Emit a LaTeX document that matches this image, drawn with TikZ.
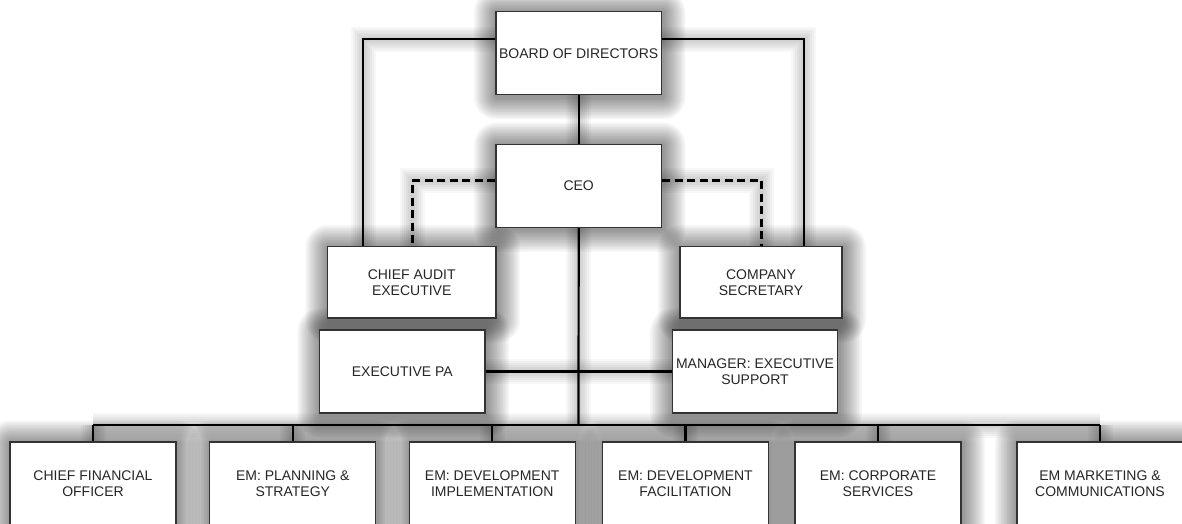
\documentclass[tikz,border=0pt]{standalone}
\usepackage{fontspec}
\setmainfont{Liberation Sans}
\usetikzlibrary{calc}
\pgfdeclarelayer{back}
\pgfdeclarelayer{bg}
\pgfsetlayers{back,bg,main}
\tikzset{
  box/.style={draw=black!80, line width=1.2pt, fill=white, inner sep=0pt, align=center,
    font=\fontsize{14}{16}\selectfont, text=black!85},
  bigbox/.style={box, minimum width=165.5pt, minimum height=83pt},
  wire/.style={line width=2.2pt, draw=black},
  dwire/.style={wire, line width=2.6pt, dash pattern=on 8pt off 4.5pt},
  glow/.style={draw=black, draw opacity=0.03}
}
\newcommand\orgwires[2]{%
  \draw[#1] (board.south) -- (ceo.north);
  \draw[#1] ([yshift=13.9pt]board.west) -| ([xshift=-48.4pt]cae.north);
  \draw[#1] ([yshift=13.9pt]board.east) -| ([xshift=42.7pt]cs.north);
  \draw[#2] ([yshift=5pt]ceo.west) -| ([xshift=0.6pt]cae.north);
  \draw[#2] ([yshift=5pt]ceo.east) -| ([xshift=0.7pt]cs.north);
  \draw[#1] (ceo.south) -- (bus);
  \draw[#1] (epa.east) -- (mes.west);
  \draw[#1] (cfo.north |- bus) -- (mk.north |- bus);
  \foreach \n in {cfo,pl,di,df,corp,mk}{\draw[#1] (\n.north) -- (\n.north |- bus);}
}
\newcommand\boxshade[1]{%
  \foreach \r in {1.5,3,...,22.5}{%
    \fill[black, opacity=0.032, rounded corners=\r pt]
      ([xshift=-\r pt+1pt, yshift=\r pt-1.5pt]#1.north west) rectangle
      ([xshift=\r pt+1pt, yshift=-\r pt-1.5pt]#1.south east);}%
}
\begin{document}
\begin{tikzpicture}[x=1pt,y=-1pt]
\useasboundingbox (0,0) rectangle (1182,524);
\begin{pgfonlayer}{back}
\fill[white] (0,0) rectangle (1182,524);
\end{pgfonlayer}
\node[bigbox] (board) at (578.7,53.2) {BOARD OF DIRECTORS};
\node[bigbox] (ceo) at (578.7,185.7) {CEO};
\node[box, minimum width=168.7pt, minimum height=71.3pt] (cae) at (411.7,282.3) {CHIEF AUDIT\\EXECUTIVE};
\node[box, minimum width=162pt, minimum height=71.3pt] (cs) at (761,282.3) {COMPANY\\SECRETARY};
\node[bigbox] (epa) at (402.3,371.5) {EXECUTIVE PA};
\node[bigbox] (mes) at (755,371.5) {MANAGER: EXECUTIVE\\SUPPORT};
\node[bigbox, minimum width=166pt] (cfo) at (93,483.5) {CHIEF FINANCIAL\\OFFICER};
\node[bigbox, minimum width=166pt] (pl) at (292.8,483.5) {EM: PLANNING \&\\STRATEGY};
\node[bigbox, minimum width=166pt] (di) at (492.2,483.5) {EM: DEVELOPMENT\\IMPLEMENTATION};
\node[bigbox, minimum width=166pt] (df) at (685.5,483.5) {EM: DEVELOPMENT\\FACILITATION};
\node[bigbox, minimum width=166pt] (corp) at (878,483.5) {EM: CORPORATE\\SERVICES};
\node[bigbox, minimum width=166pt] (mk) at (1100,483.5) {EM MARKETING \&\\COMMUNICATIONS};
\coordinate (bus) at (578.5,425);
\begin{pgfonlayer}{bg}
\foreach \n in {board,ceo,cae,cs,epa,mes,cfo,pl,di,df,corp,mk}{\boxshade{\n}}
\foreach \w in {5,9,13,17,21,25}{\orgwires{glow, line width=\w pt}{glow, line width=\w pt}}
\end{pgfonlayer}
\orgwires{wire}{dwire}
\end{tikzpicture}
\end{document}
